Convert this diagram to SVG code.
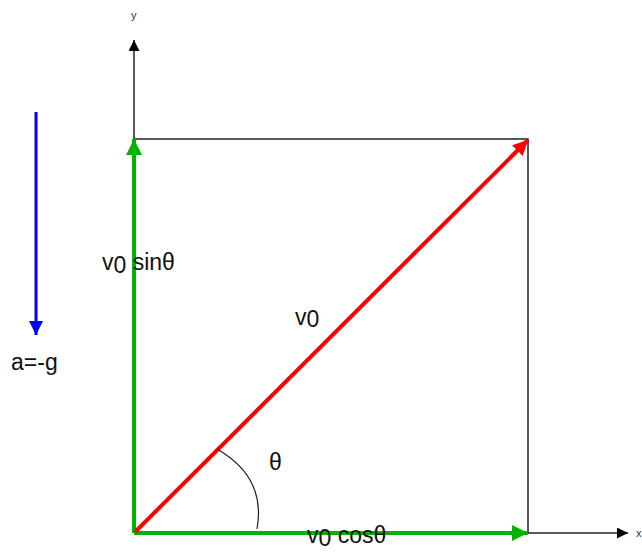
<svg xmlns="http://www.w3.org/2000/svg" width="642" height="557" viewBox="0 0 642 557">
<style>
.t{font-family:"Liberation Sans",Arial,sans-serif;font-size:23px;fill:#111}
.s{font-family:"Liberation Sans",Arial,sans-serif;font-size:11px;fill:#333}
.ax{stroke:#222;stroke-width:1.5;fill:none}
</style>
<defs>
<marker id="ak" viewBox="0 0 10 10" refX="10" refY="5" markerUnits="userSpaceOnUse" markerWidth="15" markerHeight="11" orient="auto"><path d="M0,0L10,5L0,10z" fill="#000"/></marker>
<marker id="ag" viewBox="0 0 10 10" refX="10" refY="5" markerUnits="userSpaceOnUse" markerWidth="19" markerHeight="16" orient="auto"><path d="M0,0L10,5L0,10z" fill="#00b400"/></marker>
<marker id="ar" viewBox="0 0 10 10" refX="10" refY="5" markerUnits="userSpaceOnUse" markerWidth="20" markerHeight="15" orient="auto"><path d="M0,0L10,5L0,10z" fill="#ff0000"/></marker>
<marker id="ab" viewBox="0 0 10 10" refX="10" refY="5" markerUnits="userSpaceOnUse" markerWidth="17" markerHeight="14" orient="auto"><path d="M0,0L10,5L0,10z" fill="#0000ff"/></marker>
</defs>
<g id="connectors">
<line class="ax" x1="134" y1="533" x2="134" y2="40" marker-end="url(#ak)"/>
<line class="ax" x1="134" y1="533" x2="628" y2="533" marker-end="url(#ak)"/>
<polyline class="ax" points="134,139 528,139 528,533"/>
<line x1="134" y1="533" x2="134" y2="139" stroke="#00b400" stroke-width="4" marker-end="url(#ag)"/>
<line x1="134" y1="533" x2="528" y2="533" stroke="#00b400" stroke-width="4" marker-end="url(#ag)"/>
<line x1="135" y1="532" x2="528" y2="140" stroke="#ff0000" stroke-width="4" marker-end="url(#ar)"/>
<line x1="36" y1="112" x2="36" y2="335" stroke="#0000ff" stroke-width="3" marker-end="url(#ab)"/>
<path d="M217,449 C245,465 264,490 257,529" stroke="#222" stroke-width="1.2" fill="none"/>
</g>
<g id="labels">
<text class="s" x="131" y="19">y</text>
<text class="s" x="636" y="537">x</text>
<text class="t" x="102" y="270">v<tspan dy="3">0</tspan><tspan dy="-3"> sinθ</tspan></text>
<text class="t" x="295" y="325">v<tspan dy="2">0</tspan></text>
<text class="t" x="11" y="370">a=-g</text>
<text class="t" x="269" y="470">θ</text>
<text class="t" x="307" y="543">v<tspan dy="3">0</tspan><tspan dy="-3"> cosθ</tspan></text>
</g>
</svg>
